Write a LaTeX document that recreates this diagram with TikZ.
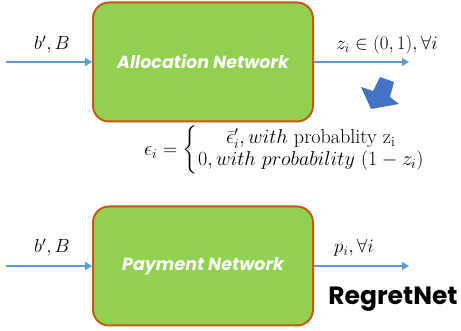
\documentclass[tikz,border=0pt]{standalone}
\usepackage{amsmath}
\usepackage{graphicx}
\usepackage{fontspec}
\usetikzlibrary{arrows.meta}
\newfontfamily\boxfont{Poppins}
\definecolor{boxgreen}{HTML}{92D050}
\definecolor{boxedge}{HTML}{C55A11}
\definecolor{arrblue}{HTML}{5B9BD5}
\definecolor{fatblue}{HTML}{4472C4}
\newcommand{\lblmath}[1]{\scalebox{1.1}{$#1$}}
\begin{document}
\begin{tikzpicture}[x=1pt,y=-1pt,
  netbox/.style={draw=boxedge, line width=2pt, fill=boxgreen, rounded corners=16pt,
    minimum width=220pt, minimum height=119pt, inner sep=0pt, text=white,
    font=\boxfont\bfseries\itshape\fontsize{17.5}{21}\selectfont},
  flow/.style={draw=arrblue, line width=2pt, -{Triangle[length=7pt,width=8pt]}},
  mathlbl/.style={font=\fontsize{17.28}{21}\selectfont, inner sep=0pt, anchor=base}]
\useasboundingbox (0,0) rectangle (461,331);
% boxes
\node[netbox] (alloc) at (203,62) {Allocation Network};
\node[netbox] (pay) at (203,266) {Payment Network};
% free ends
\coordinate (ain) at (6,62);
\coordinate (aout) at (409,62);
\coordinate (pin) at (6,266);
\coordinate (pout) at (409,266);
% connectors
\draw[flow] (ain) -- (alloc.west);
\draw[flow] (alloc.east) -- (aout);
\draw[flow] (pin) -- (pay.west);
\draw[flow] (pay.east) -- (pout);
% labels
\node[mathlbl] (lab1) at (52,50) {\lblmath{b',B}};
\node[mathlbl] (lab2) at (387,50) {\lblmath{z_i\in(0,1),\forall i}};
\node[mathlbl] (lab3) at (52,253) {\lblmath{b',B}};
\node[mathlbl] (lab4) at (354,253) {\lblmath{p_i,\forall i}};
% equation
\node[font=\fontsize{20.74}{24}\selectfont, inner sep=0pt, anchor=west] (eq) at (144,150)
  {\scalebox{0.97}{\renewcommand{\arraystretch}{0.9}$\epsilon_i=\left\{\begin{array}{@{}c@{}}\bar{\epsilon}'_i, with\ \text{probablity}\ \mathrm{z_i}\\
   0, with\ probability\ (1-z_i)\end{array}\right.$}};
% fat arrow
\fill[fatblue] (380,77) -- (394,82) -- (390,97) -- (399,104) -- (371,109) -- (361,87) -- (373,91) -- cycle;
% title
\node[font=\boxfont\bfseries\fontsize{25}{30}\selectfont, inner sep=0pt, anchor=base] (title) at (393,305) {RegretNet};
\end{tikzpicture}
\end{document}
